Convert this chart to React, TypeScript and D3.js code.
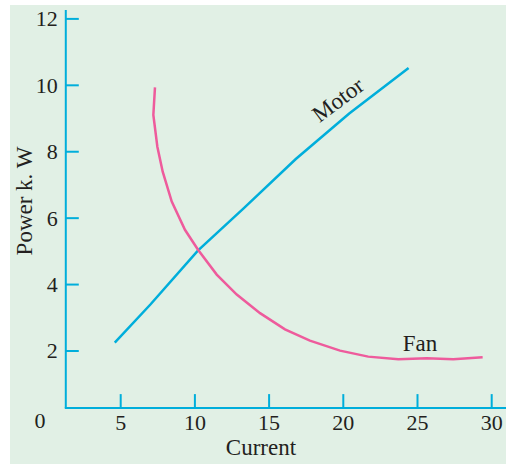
import { useMemo } from 'react'
import { scaleLinear, line, curveLinear } from 'd3'

// Power vs current for a motor and a fan.

const MOTOR_CURRENT = [4.6, 7.0, 10.2, 13.3, 16.8, 20.4, 24.4]
const MOTOR_POWER = [2.25, 3.4, 5.02, 6.3, 7.78, 9.15, 10.52]

const FAN_CURRENT = [7.31, 7.2, 7.47, 7.83, 8.44, 9.33, 10.21, 11.47, 12.82, 14.39, 16.07, 17.75, 19.78, 21.68, 23.71, 25.62, 27.41, 29.39]
const FAN_POWER = [9.94, 9.11, 8.15, 7.4, 6.5, 5.65, 5.05, 4.3, 3.7, 3.14, 2.65, 2.31, 2.01, 1.83, 1.75, 1.78, 1.75, 1.81]

const X_TICKS = [5, 10, 15, 20, 25, 30]
const Y_TICKS = [2, 4, 6, 8, 10, 12]

const W = 506
const H = 464
const FONT = '"Liberation Serif", "Times New Roman", serif'
const AXIS_COLOR = '#00aedb'
const MOTOR_COLOR = '#00aedb'
const FAN_COLOR = '#ee5b9c'
const TEXT_COLOR = '#231f20'
// axes don't cross at (0,0) in the original drawing
const X_AXIS_AT = 0.28
const Y_AXIS_AT = 1.3

export default function App() {
  const x = useMemo(() => scaleLinear().domain([0, 30]).range([46.5, 491.7]), [])
  const y = useMemo(() => scaleLinear().domain([0, 12]).range([417.4, 18.9]), [])

  const path = line<[number, number]>()
    .x((d) => x(d[0]))
    .y((d) => y(d[1]))
    .curve(curveLinear)

  const motor = MOTOR_CURRENT.map((c, i) => [c, MOTOR_POWER[i]] as [number, number])
  const fan = FAN_CURRENT.map((c, i) => [c, FAN_POWER[i]] as [number, number])

  const ax = x(Y_AXIS_AT)
  const ay = y(X_AXIS_AT)
  const motorLbl = { x: x(19.95), y: y(9.38) }

  return (
    <svg width={W} height={H} style={{ position: 'absolute', left: 0, top: 0 }} fontFamily={FONT}>
      <rect x={10} y={5} width={W - 10} height={H - 5} fill="#e1f0e5" />

      {/* y axis */}
      <line x1={ax} y1={10} x2={ax} y2={ay} stroke={AXIS_COLOR} strokeWidth={2} />
      {Y_TICKS.map((t) => (
        <g key={`y${t}`}>
          <line x1={ax} x2={ax + 13} y1={y(t)} y2={y(t)} stroke={AXIS_COLOR} strokeWidth={2} />
          <text x={ax - 8} y={y(t) + 7.5} textAnchor="end" fontSize={22} fill={TEXT_COLOR}>
            {t}
          </text>
        </g>
      ))}

      {/* x axis */}
      <line x1={ax - 1} y1={ay} x2={W} y2={ay} stroke={AXIS_COLOR} strokeWidth={2} />
      {X_TICKS.map((t) => (
        <g key={`x${t}`}>
          <line x1={x(t)} x2={x(t)} y1={ay} y2={ay - 14} stroke={AXIS_COLOR} strokeWidth={2} />
          <text x={x(t)} y={ay + 22} textAnchor="middle" fontSize={22} fill={TEXT_COLOR}>
            {t}
          </text>
        </g>
      ))}
      <text x={40} y={ay + 20} textAnchor="middle" fontSize={22} fill={TEXT_COLOR}>
        0
      </text>

      <text x={261} y={455} textAnchor="middle" fontSize={23} fill={TEXT_COLOR}>
        Current
      </text>
      <text transform={`translate(32, 201) rotate(-90)`} textAnchor="middle" fontSize={23} fill={TEXT_COLOR}>
        Power k. W
      </text>

      <path d={path(motor) ?? ''} fill="none" stroke={MOTOR_COLOR} strokeWidth={2.5} />
      <path d={path(fan) ?? ''} fill="none" stroke={FAN_COLOR} strokeWidth={2.5} />

      <text
        transform={`translate(${motorLbl.x}, ${motorLbl.y}) rotate(-37)`}
        textAnchor="middle"
        fontSize={23}
        fill={TEXT_COLOR}
      >
        Motor
      </text>
      <text x={x(25.17)} y={y(2.0)} textAnchor="middle" fontSize={23} fill={TEXT_COLOR}>
        Fan
      </text>
    </svg>
  )
}
